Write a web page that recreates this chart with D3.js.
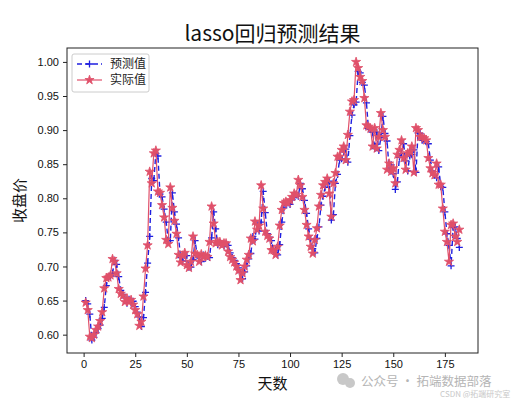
<!DOCTYPE html>
<html>
<head>
<meta charset="utf-8">
<script src="https://cdn.jsdelivr.net/npm/d3@7"></script>
<style>
  body { margin: 0; background: #fff; }
  svg { display: block; font-family: "Noto Sans CJK SC", "DejaVu Sans", sans-serif; }
</style>
</head>
<body>
<div id="chart"></div>
<script>
// actual closing price (normalized), days 1..182
var actual = [
  0.647,0.636,0.597,0.595,0.600,0.607,0.612,0.620,0.633,0.668,
  0.683,0.684,0.687,0.711,0.707,0.690,0.667,0.660,0.657,0.648,
  0.653,0.648,0.651,0.644,0.636,0.630,0.613,0.619,0.656,0.697,
  0.731,0.839,0.822,0.866,0.870,0.810,0.808,0.790,0.772,0.739,
  0.733,0.816,0.786,0.767,0.748,0.717,0.706,0.716,0.720,0.702,
  0.698,0.707,0.744,0.719,0.717,0.707,0.718,0.714,0.716,0.714,
  0.736,0.788,0.763,0.734,0.736,0.736,0.731,0.734,0.734,0.722,
  0.714,0.710,0.706,0.700,0.694,0.680,0.690,0.700,0.710,0.717,
  0.741,0.737,0.766,0.754,0.760,0.819,0.785,0.751,0.745,0.741,
  0.724,0.724,0.717,0.729,0.760,0.783,0.793,0.795,0.793,0.797,
  0.802,0.807,0.805,0.827,0.819,0.802,0.783,0.761,0.744,0.729,
  0.719,0.739,0.756,0.788,0.805,0.819,0.824,0.829,0.807,0.773,
  0.822,0.837,0.861,0.861,0.871,0.876,0.856,0.893,0.927,0.942,
  0.944,1.000,0.991,0.978,0.972,0.947,0.907,0.905,0.902,0.876,
  0.903,0.873,0.890,0.925,0.900,0.890,0.842,0.851,0.839,0.844,
  0.822,0.864,0.871,0.885,0.859,0.842,0.866,0.868,0.876,0.838,
  0.903,0.900,0.890,0.890,0.888,0.885,0.859,0.844,0.837,0.834,
  0.851,0.820,0.820,0.785,0.751,0.736,0.707,0.761,0.763,0.744,
  0.736,0.754
];

// lasso predictions, same days
var predicted = [
  0.650,0.645,0.630,0.592,0.596,0.603,0.609,0.614,0.624,0.640,
  0.672,0.684,0.686,0.690,0.709,0.703,0.685,0.665,0.659,0.654,
  0.646,0.652,0.647,0.649,0.641,0.633,0.626,0.612,0.625,0.662,
  0.705,0.744,0.829,0.826,0.866,0.862,0.806,0.802,0.784,0.765,
  0.738,0.738,0.808,0.780,0.762,0.742,0.713,0.708,0.716,0.716,
  0.699,0.699,0.710,0.738,0.716,0.714,0.707,0.717,0.712,0.715,
  0.713,0.742,0.780,0.755,0.732,0.735,0.733,0.730,0.733,0.731,
  0.720,0.713,0.709,0.704,0.698,0.691,0.682,0.692,0.701,0.711,
  0.719,0.744,0.740,0.762,0.752,0.765,0.810,0.779,0.748,0.743,
  0.738,0.722,0.724,0.717,0.732,0.765,0.786,0.792,0.793,0.791,
  0.798,0.801,0.805,0.803,0.822,0.814,0.797,0.778,0.755,0.740,
  0.726,0.720,0.741,0.758,0.790,0.803,0.816,0.821,0.825,0.768,
  0.776,0.822,0.835,0.856,0.858,0.868,0.872,0.853,0.892,0.922,
  0.937,0.941,0.986,0.984,0.970,0.966,0.940,0.902,0.901,0.897,
  0.873,0.897,0.870,0.889,0.920,0.895,0.884,0.842,0.849,0.836,
  0.813,0.824,0.860,0.866,0.880,0.855,0.840,0.862,0.864,0.871,
  0.838,0.896,0.895,0.885,0.885,0.883,0.880,0.856,0.840,0.834,
  0.830,0.846,0.817,0.816,0.780,0.748,0.731,0.701,0.757,0.758,
  0.741,0.728
];

var xTicks = [0, 25, 50, 75, 100, 125, 150, 175];
var yTicks = [0.60, 0.65, 0.70, 0.75, 0.80, 0.85, 0.90, 0.95, 1.00];
var seriesNames = ["预测值", "实际值"];

var W = 531, H = 398;
var margin = {left: 67, right: 53, top: 48, bottom: 45};
var colors = {pred: "#1f1fe0", act: "#e0506a"};

var svg = d3.select("#chart").append("svg").attr("width", W).attr("height", H);

var x = d3.scaleLinear().domain([-8.05, 191.05]).range([margin.left, W - margin.right]);
var y = d3.scaleLinear().domain([0.5731, 1.0204]).range([H - margin.bottom, margin.top]);

var predPts = predicted.map(function (v, i) { return [i + 1, v]; });
var actPts = actual.map(function (v, i) { return [i + 1, v]; });

var line = d3.line().x(function (d) { return x(d[0]); }).y(function (d) { return y(d[1]); });
var plusPath = "M-3.5,0H3.5M0,-3.5V3.5";
var star = d3.symbol().type(d3.symbolStar).size(26);

// prediction series (dashed, + markers)
svg.append("path").datum(predPts)
    .attr("d", line)
    .style("fill", "none")
    .style("stroke", colors.pred)
    .style("stroke-width", 1.4)
    .style("stroke-dasharray", "5,3");

svg.selectAll(".plus").data(predPts).enter().append("path")
    .classed("plus", true)
    .attr("transform", function (d) { return "translate(" + x(d[0]) + "," + y(d[1]) + ")"; })
    .attr("d", plusPath)
    .style("stroke", colors.pred)
    .style("stroke-width", 1.3);

// actual series (solid, star markers)
svg.append("path").datum(actPts)
    .attr("d", line)
    .style("fill", "none")
    .style("stroke", colors.act)
    .style("stroke-width", 1.2);

svg.selectAll(".star").data(actPts).enter().append("path")
    .classed("star", true)
    .attr("transform", function (d) { return "translate(" + x(d[0]) + "," + y(d[1]) + ")"; })
    .attr("d", star)
    .style("fill", colors.act)
    .style("stroke", colors.act)
    .style("stroke-width", 0.8);

// axes
var xAxis = d3.axisBottom(x).tickValues(xTicks).tickSize(4).tickPadding(3)
    .tickFormat(d3.format("d"));
var yAxis = d3.axisLeft(y).tickValues(yTicks).tickSize(4).tickPadding(4)
    .tickFormat(d3.format(".2f"));

var gx = svg.append("g").attr("transform", "translate(0," + (H - margin.bottom) + ")").call(xAxis);
var gy = svg.append("g").attr("transform", "translate(" + margin.left + ",0)").call(yAxis);
[gx, gy].forEach(function (g) {
    g.select(".domain").remove();
    g.selectAll("line").style("stroke", "#222");
    g.selectAll("text").style("font-size", "11px").style("fill", "#111");
});

// frame
svg.append("rect")
    .attr("x", margin.left).attr("y", margin.top)
    .attr("width", W - margin.left - margin.right)
    .attr("height", H - margin.top - margin.bottom)
    .style("fill", "none").style("stroke", "#222").style("stroke-width", 1);

// title and labels
svg.append("text").attr("x", (margin.left + W - margin.right) / 2).attr("y", 41)
    .attr("text-anchor", "middle").style("font-size", "21px").style("fill", "#111")
    .text("lasso回归预测结果");
svg.append("text").attr("x", (margin.left + W - margin.right) / 2).attr("y", 389)
    .attr("text-anchor", "middle").style("font-size", "15px").style("fill", "#111")
    .text("天数");
svg.append("text").attr("transform", "translate(25," + ((margin.top + H - margin.bottom) / 2) + ") rotate(-90)")
    .attr("text-anchor", "middle").style("font-size", "15px").style("fill", "#111")
    .text("收盘价");

// legend
var lg = svg.append("g").attr("transform", "translate(72,54)");
lg.append("rect").attr("width", 77).attr("height", 38).attr("rx", 2)
    .style("fill", "#fff").style("fill-opacity", 0.8)
    .style("stroke", "#ccc").style("stroke-width", 1);
seriesNames.forEach(function (name, i) {
    var ly = 10 + i * 16;
    var c = i === 0 ? colors.pred : colors.act;
    lg.append("line").attr("x1", 5).attr("x2", 30).attr("y1", ly).attr("y2", ly)
        .style("stroke", c).style("stroke-width", i === 0 ? 1.4 : 1.2)
        .style("stroke-dasharray", i === 0 ? "5,3" : null);
    if (i === 0) {
        lg.append("path").attr("transform", "translate(17.5," + ly + ")").attr("d", plusPath)
            .style("stroke", c).style("stroke-width", 1.3);
    } else {
        lg.append("path").attr("transform", "translate(17.5," + ly + ")").attr("d", star)
            .style("fill", c).style("stroke", c).style("stroke-width", 0.8);
    }
    lg.append("text").attr("x", 38).attr("y", ly + 4).style("font-size", "12px").style("fill", "#222")
        .text(name);
});

// watermark
var wm = svg.append("g").style("fill", "#b5b5b5");
wm.append("circle").attr("cx", 343).attr("cy", 379).attr("r", 6).style("fill", "#c8c8c8");
wm.append("circle").attr("cx", 350).attr("cy", 383).attr("r", 5).style("fill", "#c8c8c8");
wm.append("text").attr("x", 361).attr("y", 385.5).style("font-size", "12.5px").text("公众号 · 拓端数据部落");
wm.append("text").attr("x", 440).attr("y", 397).style("font-size", "8px").style("fill", "#c8c8c8")
    .text("CSDN @拓端研究室");
</script>
</body>
</html>
